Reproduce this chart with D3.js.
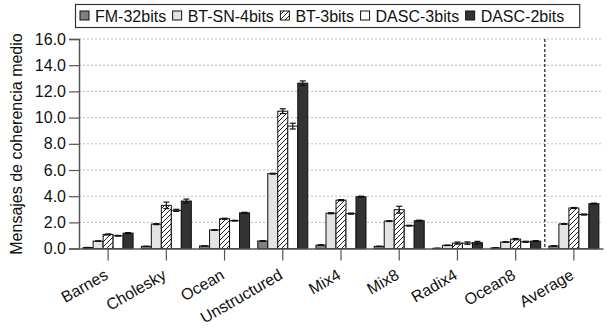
<!DOCTYPE html>
<html>
<head>
<meta charset="utf-8">
<script src="https://cdn.jsdelivr.net/npm/d3@7"></script>
<style>
body{margin:0;background:#fff;}
svg{display:block;font-family:"Liberation Sans",Arial,sans-serif;}
</style>
</head>
<body>
<svg width="607" height="329"></svg>
<script>
const categories=["Barnes","Cholesky","Ocean","Unstructured","Mix4","Mix8","Radix4","Ocean8","Average"];
const seriesNames=["FM-32bits","BT-SN-4bits","BT-3bits","DASC-3bits","DASC-2bits"];
const fm32=[0.08,0.17,0.2,0.58,0.27,0.17,0.02,0.05,0.2];
const btsn4=[0.57,1.87,1.42,5.72,2.7,2.1,0.25,0.5,1.88];
const bt3=[1.08,3.3,2.28,10.49,3.7,2.97,0.42,0.72,3.1];
const dasc3=[0.98,2.92,2.13,9.35,2.67,1.75,0.42,0.52,2.6];
const dasc2=[1.18,3.63,2.73,12.63,3.96,2.13,0.45,0.57,3.43];
const fm32Err=[0.01,0.01,0.01,0.02,0.02,0.01,0.01,0.01,0.01];
const btsn4Err=[0.02,0.04,0.02,0.03,0.04,0.03,0.02,0.02,0.03];
const bt3Err=[0.04,0.25,0.04,0.18,0.04,0.26,0.08,0.05,0.04];
const dasc3Err=[0.03,0.08,0.03,0.22,0.04,0.03,0.09,0.04,0.04];
const dasc2Err=[0.04,0.15,0.04,0.17,0.04,0.04,0.1,0.04,0.04];
const yTicks=[0,2,4,6,8,10,12,14,16];

const values=[fm32,btsn4,bt3,dasc3,dasc2];
const errs=[fm32Err,btsn4Err,bt3Err,dasc3Err,dasc2Err];
const fills=["#808080","#e3e3e3","url(#hatch)","#ffffff","#333333"];

const svg=d3.select('svg');
const margin={top:39,left:79,right:4,bottom:80};
const width=+svg.attr('width');
const height=+svg.attr('height');
const x0=margin.left,x1=width-margin.right;
const yBase=248.6;

const defs=svg.append('defs');
const pat=defs.append('pattern')
  .attr('id','hatch').attr('patternUnits','userSpaceOnUse')
  .attr('width',5).attr('height',5);
pat.append('rect').attr('width',5).attr('height',5).attr('fill','#fff');
pat.append('path').attr('d','M-1,1 l2,-2 M0,5 l5,-5 M4,6 l2,-2')
  .attr('stroke','#222').attr('stroke-width',1);

const xScale=d3.scaleBand().domain(categories).range([x0,x1]);
const yScale=d3.scaleLinear().domain([0,16]).range([yBase,margin.top]);
const barW=10;
const inner=d3.scaleBand().domain(seriesNames).range([-barW*2.5,barW*2.5]);

// grid
svg.append('g').selectAll('line').data(yTicks.slice(1)).enter().append('line')
  .attr('x1',x0).attr('x2',x1)
  .attr('y1',d=>yScale(d)).attr('y2',d=>yScale(d))
  .attr('stroke','#bbb').attr('stroke-dasharray','2,2');

// separator before Average
svg.append('line')
  .attr('x1',xScale('Average')).attr('x2',xScale('Average'))
  .attr('y1',yScale(16)).attr('y2',yBase)
  .attr('stroke','#444').attr('stroke-width',1.5).attr('stroke-dasharray','3,2');

// bars
const data=[];
categories.forEach((c,i)=>{
  seriesNames.forEach((s,j)=>{
    data.push({c:c,s:s,j:j,v:values[j][i],e:errs[j][i]});
  });
});
const cx=d=>xScale(d.c)+xScale.bandwidth()/2+inner(d.s);
svg.append('g').selectAll('rect').data(data).enter().append('rect')
  .attr('x',cx)
  .attr('y',d=>yScale(d.v))
  .attr('width',barW)
  .attr('height',d=>yBase-yScale(d.v))
  .attr('fill',d=>fills[d.j])
  .attr('stroke','#111').attr('stroke-width',1);

// error bars
const eg=svg.append('g').attr('stroke','#111').attr('stroke-width',1.2);
data.forEach(d=>{
  const mx=cx(d)+barW/2;
  eg.append('line').attr('x1',mx).attr('x2',mx)
    .attr('y1',yScale(d.v-d.e)).attr('y2',yScale(d.v+d.e));
  [d.v-d.e,d.v+d.e].forEach(t=>{
    eg.append('line').attr('x1',mx-3).attr('x2',mx+3)
      .attr('y1',yScale(t)).attr('y2',yScale(t));
  });
});

// y axis
const yAxis=d3.axisLeft(yScale).tickValues(yTicks).tickFormat(d3.format('.1f'))
  .tickSize(10).tickPadding(3);
const gy=svg.append('g').attr('transform',`translate(${x0},0)`).call(yAxis);
gy.select('.domain').attr('stroke','#555').attr('stroke-width',1.5);
gy.selectAll('.tick line').attr('stroke','#555').attr('stroke-width',1.2);
gy.selectAll('text').attr('font-size',16).attr('fill','#111')
  .attr('font-family','"Liberation Sans",Arial,sans-serif');

// x axis
const xAxis=d3.axisBottom(xScale).tickSize(12).tickSizeOuter(0).tickFormat('');
const gx=svg.append('g').attr('transform',`translate(0,${yBase})`).call(xAxis);
gx.select('.domain').attr('stroke','#555').attr('stroke-width',1.5);
gx.selectAll('.tick line').attr('stroke','#555').attr('stroke-width',1.2);
svg.append('g').selectAll('text').data(categories).enter().append('text')
  .attr('transform',d=>`translate(${xScale(d)+xScale.bandwidth()/2+1},278) rotate(-30)`)
  .attr('text-anchor','end')
  .attr('font-size',16).attr('fill','#111')
  .text(d=>d);

// y title
svg.append('text')
  .attr('transform',`translate(22,144) rotate(-90)`)
  .attr('text-anchor','middle')
  .attr('font-size',16).attr('fill','#111')
  .text('Mensajes de coherencia medio');

// legend
const lg=svg.append('g');
const box=lg.append('rect').attr('x',75.5).attr('y',4.5).attr('height',23)
  .attr('fill','#fff').attr('stroke','#333').attr('stroke-width',1.2);
let lx=80;
seriesNames.forEach((s,j)=>{
  lg.append('rect').attr('x',lx).attr('y',11).attr('width',9).attr('height',9)
    .attr('fill',fills[j]).attr('stroke','#111');
  const t=lg.append('text').attr('x',lx+15).attr('y',22)
    .attr('font-size',16).attr('fill','#111').text(s);
  lx+=15+t.node().getComputedTextLength()+6.5;
});
box.attr('width',lx-75.5+9);
</script>
</body>
</html>
